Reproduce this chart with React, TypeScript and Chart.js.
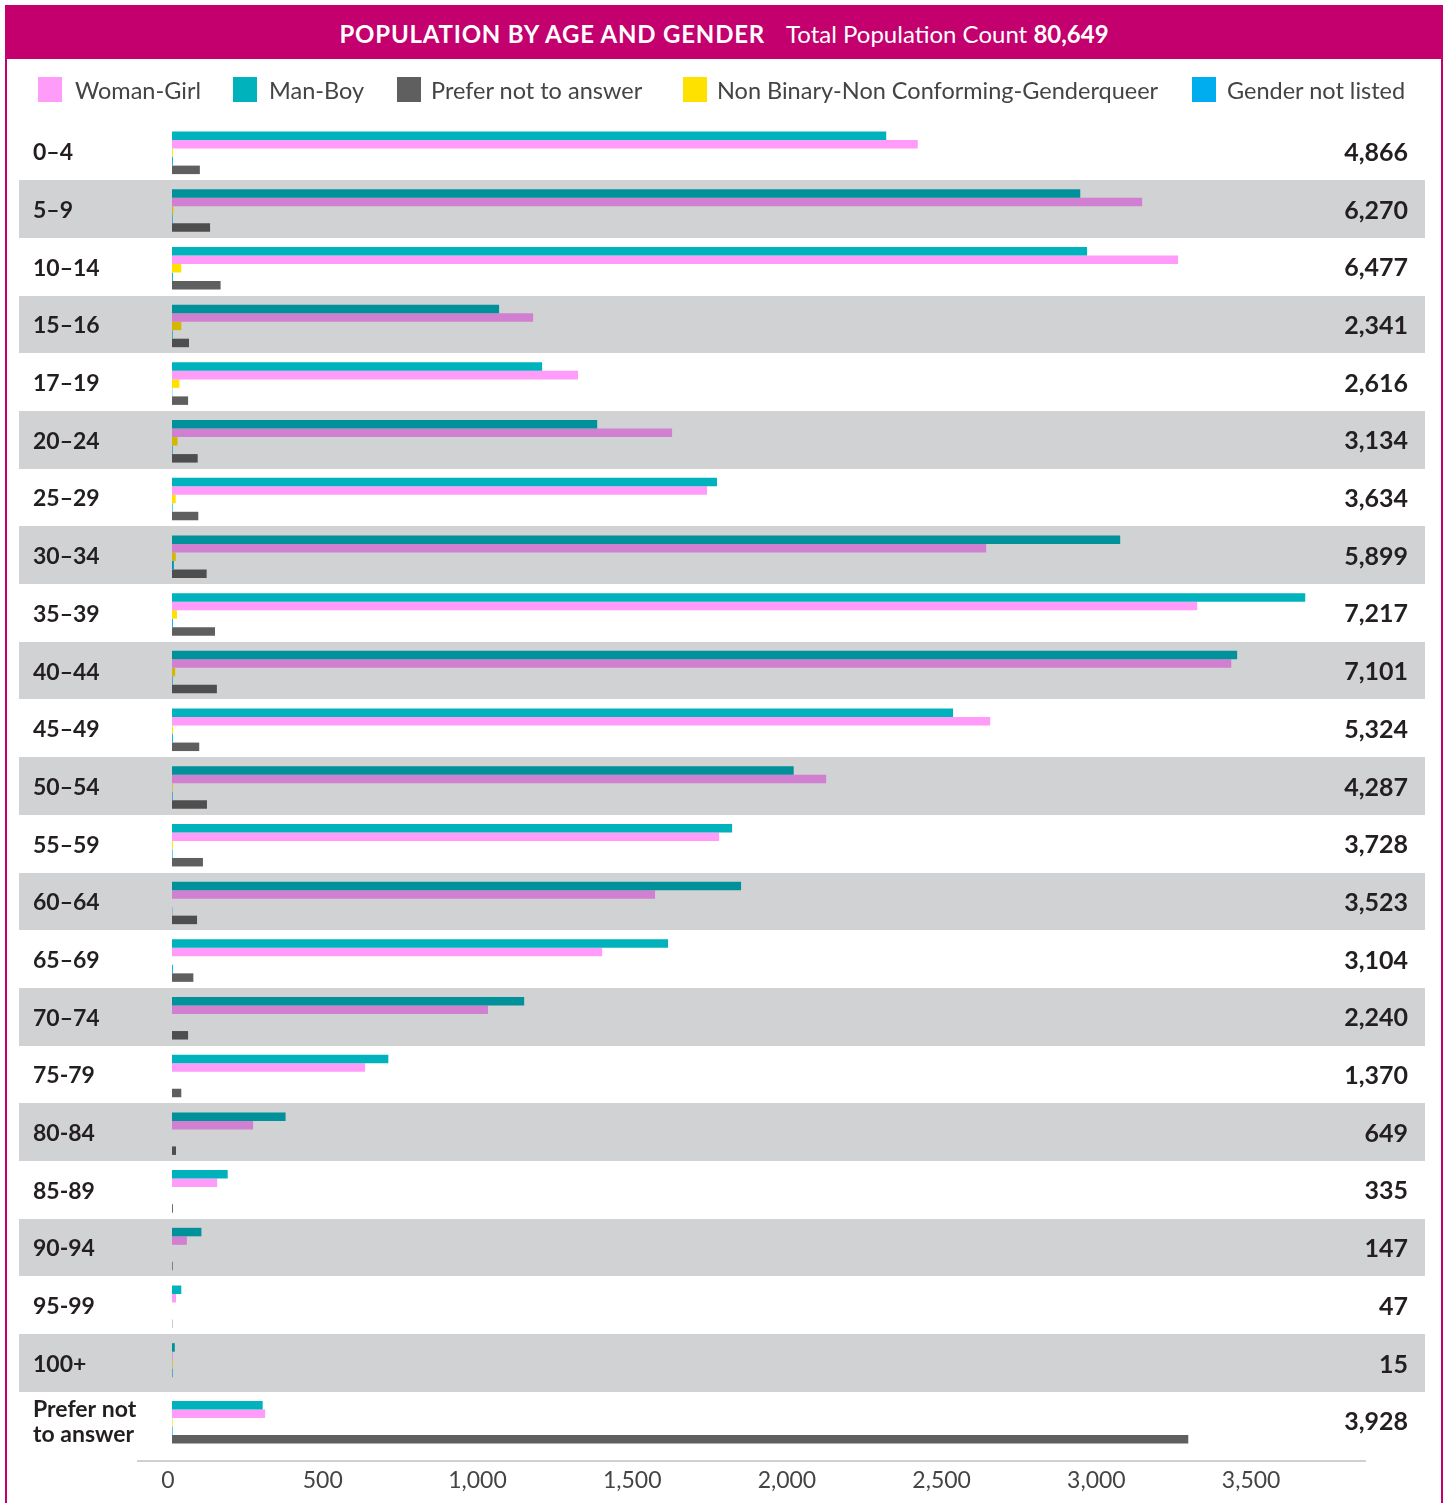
import React, { useEffect, useRef } from 'react';
import { Chart, registerables } from 'chart.js';

Chart.register(...registerables);

// ---------- DATA ----------
const ageGroups: (string | string[])[] = [
  '0–4', '5–9', '10–14', '15–16', '17–19', '20–24', '25–29', '30–34', '35–39',
  '40–44', '45–49', '50–54', '55–59', '60–64', '65–69', '70–74', '75-79', '80-84',
  '85-89', '90-94', '95-99', '100+', ['Prefer not', 'to answer'],
];
const rowTotals = [
  '4,866', '6,270', '6,477', '2,341', '2,616', '3,134', '3,634', '5,899', '7,217',
  '7,101', '5,324', '4,287', '3,728', '3,523', '3,104', '2,240', '1,370', '649',
  '335', '147', '47', '15', '3,928',
];
const manBoy = [2308, 2935, 2957, 1057, 1196, 1374, 1761, 3064, 3662, 3442, 2524, 2009, 1810, 1839, 1603, 1138, 699, 367, 180, 95, 30, 9, 293];
const womanGirl = [2410, 3135, 3251, 1167, 1312, 1616, 1729, 2631, 3313, 3423, 2644, 2114, 1768, 1561, 1390, 1021, 624, 262, 146, 48, 13, 2, 301];
const nonBinary = [3, 4, 30, 30, 24, 18, 12, 12, 16, 10, 3, 2, 3, 0, 0, 0, 0, 0, 0, 0, 0, 2, 2];
const genderNotListed = [3, 2, 3, 2, 1, 2, 2, 6, 3, 2, 3, 2, 2, 1, 3, 0, 0, 0, 0, 0, 0, 2, 2];
const preferNotToAnswer = [90, 123, 157, 55, 52, 83, 85, 112, 139, 145, 88, 113, 100, 81, 69, 52, 30, 13, 3, 2, 1, 0, 3284];
const xTickValues = [0, 500, 1000, 1500, 2000, 2500, 3000, 3500];
const xMax = 3700;

const titleMain = 'POPULATION BY AGE AND GENDER';
const titleSub = 'Total Population Count';
const titleTotal = '80,649';

const legendLabels = ['Woman-Girl', 'Man-Boy', 'Prefer not to answer', 'Non Binary-Non Conforming-Genderqueer', 'Gender not listed'];

// ---------- STYLE ----------
const FONT = 'Lato, "Open Sans", "DejaVu Sans", sans-serif';
const MAGENTA = '#C3006E';
const BAND = '#D1D2D4';
const TEXT_DARK = '#231F20';
const TEXT_MID = '#444444';

const LIGHT = { man: '#00B2BB', woman: '#FF9CFA', nb: '#FFE100', nl: '#00AEEF', pref: '#5F5F5F' };
const DARK = { man: '#00919A', woman: '#D17FD0', nb: '#D2B800', nl: '#008FC6', pref: '#4E4E4F' };

const legendColors = [LIGHT.woman, LIGHT.man, LIGHT.pref, LIGHT.nb, LIGHT.nl];
const legendSquareX = [38, 233, 397, 683, 1192];
const legendTextX = [75, 269, 431, 717, 1227];

const alt = (light: string, dark: string) => (ctx: any) => (ctx.dataIndex % 2 === 1 ? dark : light);

const bandsPlugin = {
  id: 'rowBands',
  beforeDraw(chart: any) {
    const { ctx } = chart;
    const y = chart.scales.y;
    const step = y.getPixelForValue(1) - y.getPixelForValue(0);
    ctx.save();
    ctx.fillStyle = BAND;
    for (let i = 1; i < ageGroups.length; i += 2) {
      const c = y.getPixelForValue(i);
      const top = Math.round(c - step / 2 - 1.5);
      const bottom = Math.round(c + step / 2 - 1.5);
      ctx.fillRect(19, top, 1406, bottom - top);
    }
    ctx.restore();
  },
  afterDraw(chart: any) {
    const { ctx, chartArea } = chart;
    ctx.save();
    ctx.strokeStyle = '#D0D0D0';
    ctx.lineWidth = 2;
    ctx.beginPath();
    const yy = chartArea.bottom + 10;
    ctx.moveTo(chartArea.left - 35, yy);
    ctx.lineTo(1366, yy);
    ctx.stroke();
    ctx.restore();
  },
};

export default function App() {
  const ref = useRef<HTMLCanvasElement>(null);

  useEffect(() => {
    if (!ref.current) return;
    const common = { categoryPercentage: 0.737, barPercentage: 1, borderWidth: 0, yAxisID: 'y' };
    const chart = new Chart(ref.current, {
      type: 'bar',
      data: {
        labels: ageGroups as any,
        datasets: [
          { label: 'Man-Boy', data: manBoy, backgroundColor: alt(LIGHT.man, DARK.man), ...common },
          { label: 'Woman-Girl', data: womanGirl, backgroundColor: alt(LIGHT.woman, DARK.woman), ...common },
          { label: 'Non Binary-Non Conforming-Genderqueer', data: nonBinary, backgroundColor: alt(LIGHT.nb, DARK.nb), ...common },
          { label: 'Gender not listed', data: genderNotListed, backgroundColor: alt(LIGHT.nl, DARK.nl), ...common },
          { label: 'Prefer not to answer', data: preferNotToAnswer, backgroundColor: alt(LIGHT.pref, DARK.pref), ...common },
        ],
      },
      options: {
        indexAxis: 'y',
        responsive: false,
        maintainAspectRatio: false,
        animation: false,
        devicePixelRatio: 1,
        layout: { padding: { top: 124, left: 33, right: 37, bottom: 0 } },
        plugins: { legend: { display: false }, tooltip: { enabled: false }, title: { display: false } },
        scales: {
          x: {
            type: 'linear',
            min: 0,
            max: xMax,
            position: 'bottom',
            grid: { display: false, drawTicks: false },
            border: { display: false },
            afterBuildTicks: (s: any) => { s.ticks = xTickValues.map((v) => ({ value: v })); },
            ticks: {
              maxRotation: 0,
              autoSkip: false,
              padding: 16,
              labelOffset: -4,
              color: TEXT_MID,
              font: { family: FONT, size: 23 },
              callback: (v: any) => Number(v).toLocaleString('en-US'),
            },
            afterFit: (s: any) => { s.height = 52; },
          },
          y: {
            type: 'category',
            position: 'left',
            grid: { display: false, drawTicks: false },
            border: { display: false },
            ticks: {
              crossAlign: 'far',
              autoSkip: false,
              padding: 0,
              color: TEXT_DARK,
              font: { family: FONT, size: 23, weight: 'bold', lineHeight: 1.1 },
            },
            afterFit: (s: any) => { s.width = 139; },
          },
          y2: {
            type: 'category',
            position: 'right',
            labels: rowTotals,
            offset: true,
            grid: { display: false, drawTicks: false },
            border: { display: false },
            ticks: {
              crossAlign: 'far',
              autoSkip: false,
              padding: 0,
              color: TEXT_DARK,
              font: { family: FONT, size: 25, weight: 'bold' },
            },
            afterFit: (s: any) => { s.width = 91; },
          },
        },
      } as any,
      plugins: [bandsPlugin],
    });
    return () => chart.destroy();
  }, []);

  return (
    <div style={{ position: 'fixed', left: 0, top: 0, width: 1445, height: 1503, overflow: 'hidden', background: '#fff', fontFamily: FONT }}>
      <canvas ref={ref} width={1445} height={1503} style={{ position: 'absolute', left: 0, top: 0, display: 'block' }} />
      <div style={{ position: 'absolute', left: 5, top: 5, width: 1438, height: 1600, border: `2px solid ${MAGENTA}`, boxSizing: 'border-box', pointerEvents: 'none' }} />
      <div style={{ position: 'absolute', left: 5, top: 5, width: 1438, height: 54, background: MAGENTA, display: 'flex', alignItems: 'center', justifyContent: 'center', color: '#fff', fontSize: 24, paddingTop: 3, boxSizing: 'border-box', whiteSpace: 'nowrap' }}>
        <span style={{ fontWeight: 700, letterSpacing: 0.8 }}>{titleMain}</span>
        <span style={{ marginLeft: 21 }}>{titleSub} <b>{titleTotal}</b></span>
      </div>
      {legendLabels.map((lab, i) => (
        <React.Fragment key={lab}>
          <div style={{ position: 'absolute', left: legendSquareX[i], top: 77, width: 24, height: 25, background: legendColors[i] }} />
          <div style={{ position: 'absolute', left: legendTextX[i], top: 78, height: 25, lineHeight: '25px', fontSize: 23.5, color: TEXT_MID, whiteSpace: 'nowrap' }}>{lab}</div>
        </React.Fragment>
      ))}
    </div>
  );
}
